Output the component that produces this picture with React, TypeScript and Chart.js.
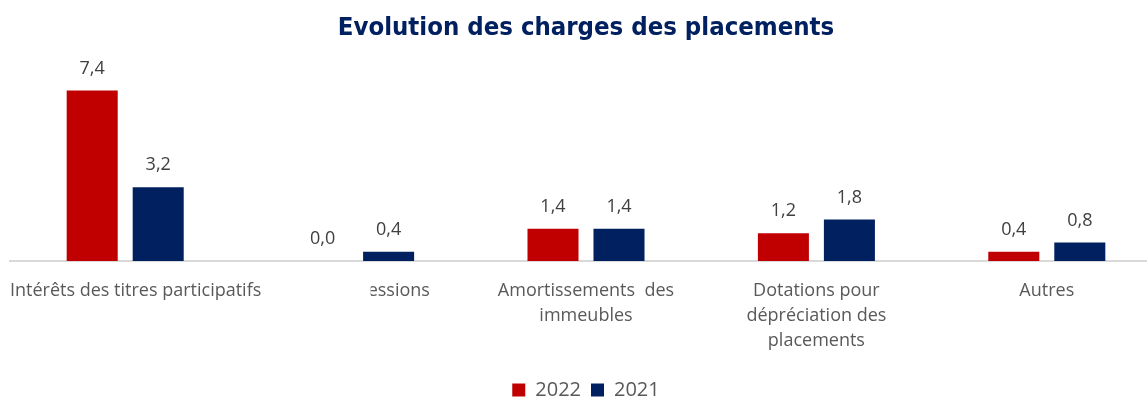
import React, { useEffect, useRef } from "react";
import { Chart, registerables } from "chart.js";

Chart.register(...registerables);

const categories: (string | string[])[] = [
  "Intérêts des titres participatifs",
  "Pertes sur cessions",
  ["Amortissements  des", "immeubles"],
  ["Dotations pour", "dépréciation des", "placements"],
  "Autres",
];
const values2022 = [7.4, 0.0, 1.4, 1.2, 0.4];
const values2021 = [3.2, 0.4, 1.4, 1.8, 0.8];
const seriesLabels = ["2022", "2021"];
const chartTitle = "Evolution des charges des placements";

const RED = "#C00000";
const NAVY = "#002060";
const LABEL_FONT = "'Open Sans', sans-serif";
const LABEL_SIZE = 18;
const LINE_H = 25;
const TICK_PAD = 17;
// indices whose labels are drawn by the plugin (overflowing / clipped as in the source)
const CUSTOM_LABELS = [0, 1];

const fmt = (v: number) => v.toFixed(1).replace(".", ",");

const valueLabelPlugin = {
  id: "valueLabels",
  afterDatasetsDraw(chart: any) {
    const { ctx } = chart;
    ctx.save();
    ctx.font = `18px ${LABEL_FONT}`;
    ctx.fillStyle = "#404040";
    ctx.textAlign = "center";
    ctx.textBaseline = "middle";
    chart.data.datasets.forEach((ds: any, di: number) => {
      const meta = chart.getDatasetMeta(di);
      meta.data.forEach((bar: any, i: number) => {
        ctx.fillText(fmt(ds.data[i]), bar.x, bar.y - 22);
      });
    });
    ctx.restore();
  },
};

const customTickPlugin = {
  id: "customTicks",
  afterDraw(chart: any) {
    const { ctx, chartArea } = chart;
    const xs = chart.scales.x;
    ctx.save();
    ctx.font = `${LABEL_SIZE}px ${LABEL_FONT}`;
    ctx.fillStyle = "#595959";
    ctx.textBaseline = "middle";
    ctx.textAlign = "left";
    const y = xs.top + TICK_PAD + LINE_H / 2;
    // first label: kept inside the plot's left edge
    {
      const text = categories[0] as string;
      const w = ctx.measureText(text).width;
      const cx = xs.getPixelForValue(0);
      const left = Math.max(cx - w / 2, chartArea.left);
      ctx.fillText(text, left, y);
    }
    // second label: hidden behind the first one, only its end is visible
    {
      const text = categories[1] as string;
      const w = ctx.measureText(text).width;
      const cx = xs.getPixelForValue(1) - 6;
      const left = cx - w / 2;
      const right = cx + w / 2;
      const visible = ctx.measureText("essions").width - 3;
      ctx.save();
      ctx.beginPath();
      ctx.rect(right - visible, xs.top, visible + 10, xs.height);
      ctx.clip();
      ctx.fillText(text, left, y);
      ctx.restore();
    }
    ctx.restore();
  },
};

export default function App() {
  const ref = useRef<HTMLCanvasElement>(null);
  useEffect(() => {
    if (!ref.current) return;
    const chart = new Chart(ref.current, {
      type: "bar",
      data: {
        labels: categories,
        datasets: [
          {
            label: seriesLabels[0],
            data: values2022,
            backgroundColor: RED,
            categoryPercentage: 0.573,
            barPercentage: 0.773,
          },
          {
            label: seriesLabels[1],
            data: values2021,
            backgroundColor: NAVY,
            categoryPercentage: 0.573,
            barPercentage: 0.773,
          },
        ],
      },
      options: {
        responsive: false,
        animation: false,
        layout: { padding: { left: 10, right: 10, top: 0, bottom: -9 } },
        plugins: {
          title: {
            display: true,
            text: chartTitle,
            color: NAVY,
            font: { family: "'Liberation Sans Narrow', 'DejaVu Sans Condensed', sans-serif", size: 25.5, weight: "bold", lineHeight: 1.2 },
            padding: { top: 13, bottom: 33 },
          },
          legend: {
            display: true,
            position: "bottom",
            labels: {
              boxWidth: 13,
              boxHeight: 13,
              padding: 10,
              color: "#595959",
              font: { family: LABEL_FONT, size: 20 },
            },
          },
          tooltip: { enabled: false },
        },
        scales: {
          x: {
            grid: { display: false, drawTicks: false },
            border: { display: true, color: "#d9d9d9", width: 2 },
            ticks: {
              autoSkip: false,
              maxRotation: 0,
              minRotation: 0,
              padding: TICK_PAD,
              color: "#595959",
              font: { family: LABEL_FONT, size: LABEL_SIZE, lineHeight: LINE_H / LABEL_SIZE },
              callback: (_v: any, i: number) => (CUSTOM_LABELS.includes(i) ? "" : categories[i]),
            },
            afterFit: (scale: any) => {
              scale.height = 109;
            },
          },
          y: { display: false, min: 0, max: 8 },
        },
      },
      plugins: [valueLabelPlugin, customTickPlugin],
    });
    return () => chart.destroy();
  }, []);
  return (
    <div style={{ position: "absolute", left: 0, top: 0, width: 1147, height: 401, overflow: "hidden", background: "#fff" }}>
      <canvas ref={ref} width={1172} height={401} />
    </div>
  );
}
